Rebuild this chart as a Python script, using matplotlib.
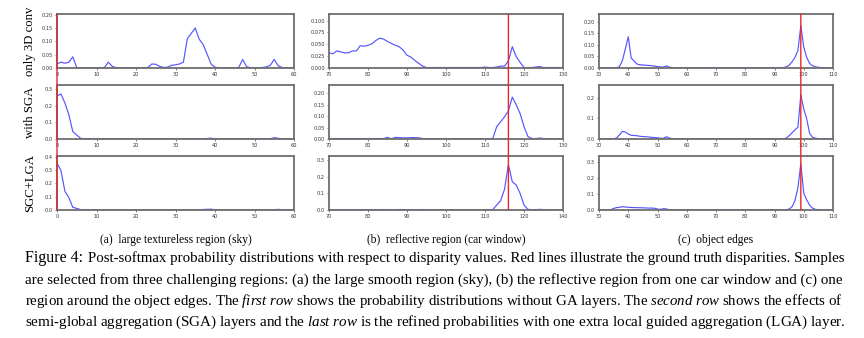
import matplotlib
matplotlib.use('Agg')
import matplotlib.pyplot as plt
from matplotlib.patches import ConnectionPatch
import numpy as np

plt.rcParams['mathtext.fontset'] = 'custom'
plt.rcParams['mathtext.rm'] = 'Liberation Serif'
plt.rcParams['mathtext.it'] = 'Liberation Serif:italic'

# disparity ranges of the three sample regions
disp_sky = list(range(0, 61))
disp_car = list(range(70, 131))
disp_edge = list(range(30, 111))

gt_disp = [0, 116, 99]

# row 1: only 3D conv
sky_3d = ([0.015, 0.022, 0.018, 0.022, 0.042, 0.001, 0.001, 0.001, 0.001, 0.001,
           0.001, 0.001, 0.002, 0.022, 0.006, 0.001] + [0.001] * 7 +
          [0.002, 0.015, 0.014, 0.006, 0.002, 0.003, 0.010, 0.012, 0.015, 0.022,
           0.110, 0.130, 0.150, 0.108, 0.088, 0.052, 0.015, 0.003, 0.001, 0.001,
           0.001, 0.001, 0.001, 0.002, 0.032, 0.005, 0.001, 0.001, 0.001, 0.002,
           0.004, 0.010, 0.032, 0.008, 0.002, 0.001, 0.001, 0.001])
car_3d = ([0.032, 0.030, 0.036, 0.034, 0.032, 0.032, 0.036, 0.036, 0.047, 0.046,
           0.048, 0.051, 0.058, 0.063, 0.061, 0.056, 0.052, 0.048, 0.045, 0.038,
           0.027, 0.023, 0.016, 0.010, 0.004, 0.001] + [0.001] * 14 +
          [0.002, 0.001, 0.001, 0.002, 0.004, 0.004, 0.015, 0.045, 0.024, 0.012,
           0.001, 0.001, 0.001, 0.002, 0.003, 0.001, 0.001, 0.001, 0.001, 0.001,
           0.001])
edge_3d = ([0.001] * 7 +
           [0.006, 0.032, 0.082, 0.135, 0.043, 0.030, 0.017, 0.014, 0.013, 0.012,
            0.011, 0.010, 0.008, 0.006, 0.005, 0.004, 0.009, 0.004, 0.001] +
           [0.001] * 13 + [0.002] + [0.001] * 6 + [0.002, 0.001, 0.001, 0.002] +
           [0.001] * 9 + [0.002, 0.001, 0.001, 0.001] +
           [0.002, 0.005, 0.012, 0.027, 0.046, 0.075, 0.183, 0.090, 0.046, 0.020,
            0.010, 0.005, 0.003, 0.002] + [0.001] * 4)

# row 2: with SGA
sky_sga = ([0.260, 0.273, 0.218, 0.147, 0.045, 0.024, 0.004, 0.001] + [0.001] * 6 +
           [0.003, 0.001] + [0.001] * 10 + [0.002, 0.001, 0.001, 0.001, 0.002] +
           [0.001] * 4 + [0.002, 0.001, 0.002, 0.003, 0.005, 0.001] + [0.001] * 6 +
           [0.002] + [0.001] * 6 + [0.002, 0.008, 0.004, 0.001, 0.001, 0.001, 0.001])
car_sga = ([0.002] * 15 +
           [0.007, 0.001, 0.007, 0.006, 0.005, 0.005, 0.006, 0.006, 0.005, 0.002] +
           [0.001] * 17 +
           [0.002, 0.054, 0.075, 0.097, 0.123, 0.183, 0.150, 0.111, 0.054, 0.011,
            0.002, 0.002, 0.004, 0.002] + [0.001] * 5)
edge_sga = ([0.001] * 6 +
            [0.005, 0.020, 0.037, 0.034, 0.024, 0.018, 0.017, 0.016, 0.013, 0.012,
             0.011, 0.010, 0.008, 0.007, 0.006, 0.004, 0.003, 0.011, 0.005, 0.001] +
            [0.001] * 13 + [0.002] + [0.001] * 6 + [0.002, 0.001, 0.001, 0.002] +
            [0.001] * 12 +
            [0.001, 0.001, 0.004, 0.016, 0.030, 0.045, 0.057, 0.216, 0.146, 0.098,
             0.028, 0.008, 0.004, 0.002, 0.001] + [0.001] * 4)

# row 3: SGC+LGA
sky_lga = ([0.350, 0.295, 0.140, 0.093, 0.020, 0.012, 0.003, 0.002] + [0.001] * 18 +
           [0.003] + [0.001] * 10 + [0.004, 0.005, 0.006, 0.002] + [0.001] * 7 +
           [0.002] + [0.001] * 7 + [0.005, 0.002, 0.001, 0.001, 0.001])
car_lga = ([0.002] * 14 +
           [0.003, 0.002, 0.002, 0.002, 0.003, 0.002, 0.002, 0.002, 0.002, 0.002,
            0.003, 0.001] + [0.001] * 16 +
           [0.002, 0.030, 0.056, 0.124, 0.274, 0.170, 0.150, 0.100, 0.030, 0.004,
            0.002, 0.002, 0.004, 0.002] + [0.001] * 5)
edge_lga = ([0.001] * 5 +
            [0.010, 0.015, 0.017, 0.021, 0.019, 0.017, 0.016, 0.015, 0.015, 0.014,
             0.014, 0.013, 0.012, 0.012, 0.011, 0.006, 0.004, 0.008, 0.007, 0.002,
             0.001] + [0.001] * 20 + [0.003] + [0.001] * 17 +
            [0.002, 0.006, 0.020, 0.060, 0.140, 0.293, 0.105, 0.065, 0.030, 0.012,
             0.004, 0.002] + [0.001] * 5)

grid = [[(disp_sky, sky_3d), (disp_car, car_3d), (disp_edge, edge_3d)],
        [(disp_sky, sky_sga), (disp_car, car_sga), (disp_edge, edge_sga)],
        [(disp_sky, sky_lga), (disp_car, car_lga), (disp_edge, edge_lga)]]

x_limits = [(0, 60), (70, 130), (30, 110)]
x_ticks = [[0, 10, 20, 30, 40, 50, 60],
           [70, 80, 90, 100, 110, 120, 130],
           [30, 40, 50, 60, 70, 80, 90, 100, 110]]
x_ticklabels_car_last = ['70', '80', '90', '100', '110', '120', '140']

y_tops = [[0.2025, 0.114, 0.233],
          [0.327, 0.236, 0.263],
          [0.4075, 0.328, 0.344]]
y_ticks = [[[0, 0.05, 0.10, 0.15, 0.20], [0, 0.025, 0.05, 0.075, 0.10], [0, 0.05, 0.10, 0.15, 0.20]],
           [[0, 0.1, 0.2, 0.3], [0, 0.05, 0.10, 0.15, 0.20], [0, 0.1, 0.2]],
           [[0, 0.1, 0.2, 0.3, 0.4], [0, 0.1, 0.2, 0.3], [0, 0.1, 0.2, 0.3]]]
y_fmt = [['%.2f', '%.3f', '%.2f'],
         ['%.1f', '%.2f', '%.1f'],
         ['%.1f', '%.1f', '%.1f']]

row_labels = ['only 3D conv', 'with SGA', 'SGC+LGA']
sub_captions = ['(a)  large textureless region (sky)',
                '(b)  reflective region (car window)',
                '(c)  object edges']

W, H = 864, 338
fig = plt.figure(figsize=(W / 100, H / 100), dpi=100)

col_px = [(57, 294), (329, 563), (599, 833)]
row_px = [(14, 68), (85, 139), (155.5, 210)]

axes = [[None] * 3 for _ in range(3)]
for r in range(3):
    for c in range(3):
        x0, x1 = col_px[c]
        y0, y1 = row_px[r]
        ax = fig.add_axes([x0 / W, 1 - y1 / H, (x1 - x0) / W, (y1 - y0) / H])
        axes[r][c] = ax
        xs, ys = grid[r][c]
        ax.plot(xs, ys, color='#5555ff', lw=0.85)
        ax.set_xlim(*x_limits[c])
        ax.set_ylim(0, y_tops[r][c])
        ax.set_xticks(x_ticks[c])
        if r == 2 and c == 1:
            ax.set_xticklabels(x_ticklabels_car_last)
        ax.set_yticks(y_ticks[r][c])
        ax.set_yticklabels([y_fmt[r][c] % v for v in y_ticks[r][c]])
        ax.tick_params(labelsize=3.6, length=1.5, width=0.5, pad=1.5,
                       colors='#444444', labelcolor='#333333')
        for s in ax.spines.values():
            s.set_color('#6e6e6e')
            s.set_linewidth(1.3)

# ground-truth red lines spanning the three rows of each column
for c in range(3):
    con = ConnectionPatch(xyA=(gt_disp[c], y_tops[0][c]), coordsA=axes[0][c].transData,
                          xyB=(gt_disp[c], 0), coordsB=axes[2][c].transData,
                          color='#e8282b', lw=1.0, zorder=5)
    fig.add_artist(con)

for r in range(3):
    yc = (row_px[r][0] + row_px[r][1]) / 2
    fig.text(30 / W, 1 - yc / H, row_labels[r], rotation=90, ha='center', va='center',
             family='Liberation Serif', fontsize=9.2)

for c in range(3):
    xc = (col_px[c][0] + col_px[c][1]) / 2
    fig.text(xc / W, 1 - 240 / H, sub_captions[c], ha='center', va='center',
             family='Liberation Serif', fontsize=8.3)

# caption
fig.text(25 / W, 1 - 258 / H, 'Figure 4:', ha='left', va='center',
         family='Liberation Serif', fontsize=11.5)
cap_lines = [
    (88, 258, 'Post-softmax probability distributions with respect to disparity values. '
              'Red lines illustrate the ground truth disparities. Samples'),
    (25, 280, 'are selected from three challenging regions: (a) the large smooth region (sky), '
              '(b) the reflective region from one car window and (c) one'),
    (25, 301, r'region around the object edges. The $\mathit{first\ row}$ shows the probability '
              r'distributions without GA layers. The $\mathit{second\ row}$ shows the effects of'),
    (25, 322, r'semi-global aggregation (SGA) layers and the $\mathit{last\ row}$ is the refined '
              r'probabilities with one extra local guided aggregation (LGA) layer.'),
]
cap_texts = []
for x0, y0, s in cap_lines:
    t = fig.text(x0 / W, 1 - y0 / H, s, ha='left', va='center',
                 family='Liberation Serif', fontsize=9.5)
    cap_texts.append((t, x0))

# stretch caption lines to the justified width
fig.canvas.draw()
renderer = fig.canvas.get_renderer()
for t, x0 in cap_texts:
    w = t.get_window_extent(renderer).width
    t.set_fontsize(t.get_fontsize() * (850 - x0) / w)

fig.savefig('out.png', dpi=100)
